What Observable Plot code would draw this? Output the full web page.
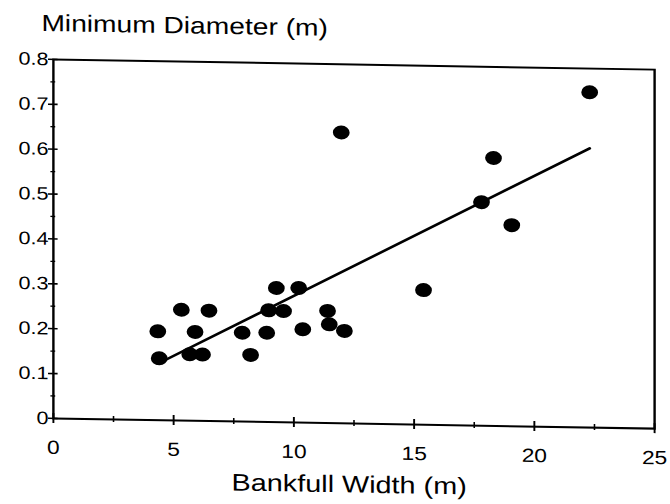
<!DOCTYPE html>
<html>
<head>
<meta charset="utf-8">
<script src="https://cdn.jsdelivr.net/npm/d3@7"></script>
<script src="https://cdn.jsdelivr.net/npm/@observablehq/plot@0.6"></script>
<style>
  html, body { margin: 0; padding: 0; background: #ffffff; }
  #chart { width: 670px; height: 504px; overflow: hidden; background: #ffffff; }
  #chart svg { display: block; transform-origin: 0 0; }
</style>
</head>
<body>
<div id="chart"></div>
<script>
// Data (bankfull width in m, minimum diameter in m)
const bankfullWidth = [4.34, 4.40, 5.32, 5.89, 5.67, 6.20, 6.47, 7.85, 8.20, 8.87, 8.95, 9.27,
                       9.57, 10.20, 10.37, 11.40, 11.47, 12.10, 11.97, 15.39, 17.80, 18.30, 19.06, 22.30];
const minDiameter   = [0.198, 0.138, 0.247, 0.198, 0.148, 0.148, 0.246, 0.198, 0.149, 0.199, 0.249, 0.299,
                       0.248, 0.300, 0.208, 0.250, 0.220, 0.206, 0.648, 0.300, 0.498, 0.597, 0.448, 0.747];

// Axis ticks and labels
const xMajorTicks = [0, 5, 10, 15, 20, 25];
const xMinorTicks = [2.5, 7.5, 12.5, 17.5, 22.5];
const xTickLabels = ["0", "5", "10", "15", "20", "25"];
const yMajorTicks = [0, 0.1, 0.2, 0.3, 0.4, 0.5, 0.6, 0.7, 0.8];
const yMinorTicks = [0.05, 0.15, 0.25, 0.35, 0.45, 0.55, 0.65, 0.75];
const yTickLabels = ["0", "0.1", "0.2", "0.3", "0.4", "0.5", "0.6", "0.7", "0.8"];

const titleText = ["Minimum Diameter (m)"];
const xLabelText = ["Bankfull Width (m)"];

const table = bankfullWidth.map((w, i) => ({width: w, diameter: minDiameter[i]}));

const chart = Plot.plot({
  width: 558,
  height: 504,
  marginLeft: 44,
  marginRight: 13,
  marginTop: 58,
  marginBottom: 87,
  style: {fontFamily: "'Liberation Sans', Arial, sans-serif", color: "#000", background: "#fff", overflow: "visible"},
  x: {domain: [0, 25]},
  y: {domain: [0, 0.8]},
  marks: [
    Plot.frame({stroke: "#000", strokeWidth: 2}),
    // crossing ticks
    Plot.axisY(yMajorTicks, {tickSize: 8, dx: 4, tickFormat: () => "", label: null, strokeWidth: 1.6}),
    Plot.axisY(yMinorTicks, {tickSize: 4, dx: 2, tickFormat: () => "", label: null, strokeWidth: 1.3}),
    Plot.axisX(xMajorTicks, {tickSize: 10, dy: -5, tickFormat: () => "", label: null, strokeWidth: 1.6}),
    Plot.axisX(xMinorTicks, {tickSize: 6, dy: -3, tickFormat: () => "", label: null, strokeWidth: 1.3}),
    // tick labels
    Plot.axisY(yMajorTicks, {tickSize: 0, tickPadding: 4, fontSize: 18, label: null,
      tickFormat: d => yTickLabels[yMajorTicks.indexOf(d)]}),
    Plot.axisX(xMajorTicks, {tickSize: 0, tickPadding: 22, fontSize: 19, label: null,
      tickFormat: d => xTickLabels[xMajorTicks.indexOf(d)]}),
    // regression line
    Plot.linearRegressionY(table, {x: "width", y: "diameter", ci: 0, stroke: "#000", strokeWidth: 2.5}),
    // points
    Plot.dot(table, {x: "width", y: "diameter", r: 7, fill: "#000", stroke: "none"}),
    // titles
    Plot.text(titleText, {frameAnchor: "top-left", textAnchor: "start", dx: -10, dy: -45, fontSize: 23.5, fill: "#000"}),
    Plot.text(xLabelText, {frameAnchor: "bottom", dx: -4, dy: 69, fontSize: 24, fill: "#000"})
  ]
});

// the scanned reference is stretched horizontally and slightly sheared
const stretch = 1.2, shear = 0.017;
chart.style.transform = `matrix(${stretch}, ${shear * stretch}, 0, 1, 0, 0)`;
document.getElementById("chart").appendChild(chart);
</script>
</body>
</html>
